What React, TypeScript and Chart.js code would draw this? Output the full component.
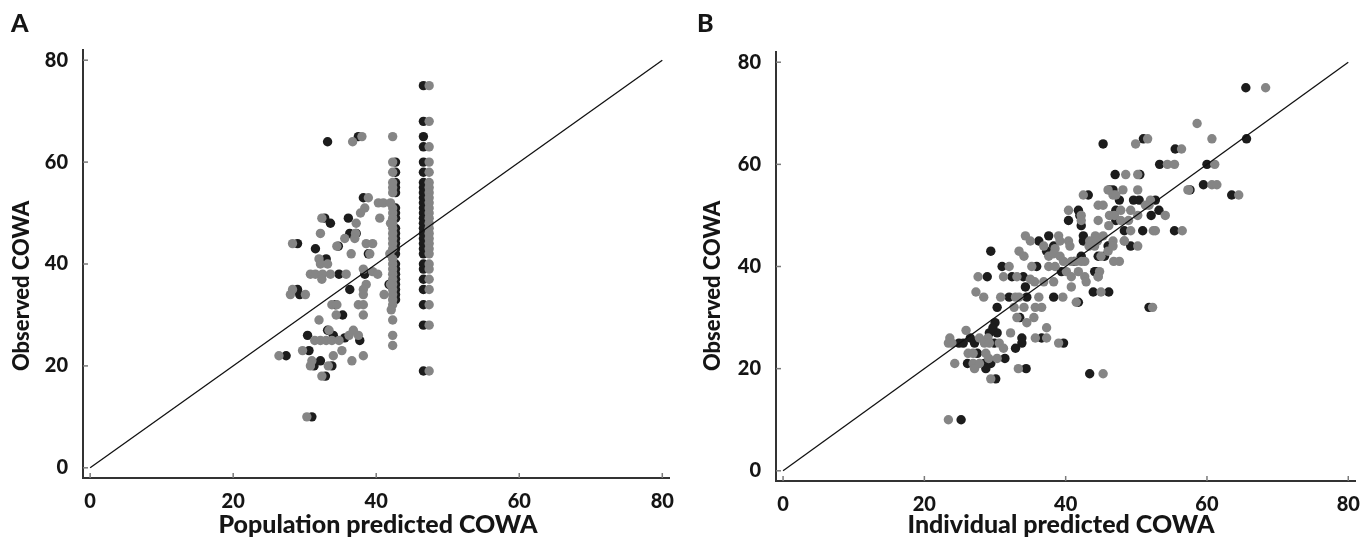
import React, { useEffect, useRef } from "react";
import { Chart, registerables } from "chart.js";

Chart.register(...registerables);

const tickValues = [0, 20, 40, 60, 80];
const panelLetters = ["A", "B"];
const xTitles = ["Population predicted COWA", "Individual predicted COWA"];
const yTitle = "Observed COWA";
const identityLine = [0, 80];

// ---------- Panel A ----------
const aBlackColX = 46.6;
const aBlackColY = [75, 68, 65, 63, 60, 58, 56, 55, 54, 53, 52, 51, 50, 49, 48, 47, 46, 45, 44, 43, 42, 40, 39, 37, 35, 32, 28, 19];
const aGrayColX = 47.4;
const aGrayColY = [75, 68, 63, 60, 58, 56, 55, 54, 53, 52, 51, 50, 49, 48, 47, 46, 45, 44, 43, 42, 40, 39, 37, 35, 32, 28, 19];
const aBlackCol2X = 42.7;
const aBlackCol2Y = [60, 58, 56, 55, 54, 51, 50, 49, 47, 46, 45, 44, 43, 42, 40, 39, 38, 37, 36, 35, 34, 33];
const aGrayCol2X = 42.3;
const aGrayCol2Y = [65, 60, 58, 56, 55, 54, 51, 50, 49, 48, 47, 46, 45, 44, 43, 41, 40, 39, 38, 37, 36, 35, 34, 33, 32, 29, 26, 24];

const aBlackScatter: [number, number][] = [
  [33.2, 64], [37.5, 65], [38.2, 53], [36.1, 49], [32.8, 49], [33.6, 48], [37.2, 46], [36.3, 46],
  [34.7, 43.5], [29, 44], [31.5, 43], [38.9, 42], [33, 41], [34.8, 38], [38.4, 38], [29, 35],
  [29.3, 34], [36.3, 35], [34.3, 32], [35.3, 30], [33.2, 27], [30.4, 26], [34, 26], [35.6, 25.5],
  [37.7, 25], [27.4, 22], [30.6, 23], [32.2, 21], [31.3, 20], [33.8, 20], [32.9, 18], [31, 10], [41.8, 36],
];
const aGrayScatter: [number, number][] = [
  [36.7, 64], [38, 65], [38.9, 53], [40.3, 52], [41, 52], [38.4, 51], [37.8, 50], [32.4, 49],
  [37.2, 48], [40.5, 49], [32.2, 46], [37.1, 46], [35.6, 45], [37, 45], [34.5, 43.5], [38.6, 44],
  [39.5, 44], [28.3, 44], [36.5, 42], [39.1, 42], [32, 41], [32.2, 40], [33.2, 40], [30.8, 38],
  [31.5, 38], [32.5, 38], [33.6, 38], [35.8, 38], [32.4, 37], [38.2, 39], [39.5, 38.5], [40.2, 38],
  [38.6, 36], [38.2, 35], [38.2, 34], [41.1, 34], [28.3, 35], [28, 34], [30.1, 34], [33.8, 32],
  [34.5, 32], [37.5, 32], [38.2, 32], [34.4, 30], [38.2, 30], [32, 29], [33.4, 27], [36.8, 27],
  [31.4, 25], [32.2, 25], [33, 25], [33.8, 25], [34.8, 25], [36.2, 26], [37.5, 26], [26.4, 22],
  [29.7, 23], [34, 22], [35.2, 23], [38.2, 22], [31, 21], [30.8, 20], [33.3, 20], [36.6, 21],
  [32.4, 18], [30.3, 10], [42, 52], [42, 48], [41.9, 42], [42, 36], [42.1, 31],
];

// ---------- Panel B ----------
const bBlack: [number, number][] = [
  [43.2, 54], [46.2, 55], [41.8, 51], [40.4, 49], [42.2, 48], [36.2, 45], [37.6, 46], [38.3, 44],
  [37.3, 43], [42.5, 45], [29.4, 43], [41.2, 41], [44.6, 42], [31, 40], [35.9, 40], [39.4, 39],
  [28.9, 38], [32.4, 38], [34, 38], [34.3, 36], [44.3, 39], [43.9, 35], [46.1, 35], [32, 34],
  [34.5, 34], [38.3, 34], [41.8, 33], [30.3, 32], [33.5, 30], [30, 29], [29.2, 27], [30.3, 27],
  [26.5, 26], [24.9, 25], [25.5, 25], [33.8, 26], [36.6, 26], [27.1, 25], [29.9, 25], [29.7, 28],
  [32.9, 24], [33.8, 25], [39.7, 25], [27.5, 23], [26.1, 21], [28.5, 21], [29.4, 21], [31.4, 22],
  [28.7, 20], [30.1, 18], [34.4, 20], [43.4, 19], [25.2, 10], [51.8, 32], [46.2, 44], [49.2, 44],
  [48.3, 47], [50.9, 47], [55.4, 47], [45.3, 64], [51, 65], [55.5, 63], [65.6, 65], [53.3, 60],
  [60, 60], [47, 58], [50.5, 58], [59.5, 56], [63.5, 54], [46.7, 55], [47.6, 53], [49.6, 53],
  [50.4, 53], [52.7, 53], [53.2, 51], [47.1, 51], [52.1, 50], [42, 50], [47.1, 49], [42.5, 46],
  [46, 44], [42.2, 42], [45.5, 42], [44.1, 39], [65.5, 75], [57.6, 55],
];
const bGray: [number, number][] = [
  [42.5, 54], [46.7, 54], [44.6, 52], [45.3, 52], [40.4, 51], [42.2, 50], [44.6, 49], [46.2, 50],
  [46.9, 50], [46.1, 48], [34.3, 46], [35, 45], [39, 46], [39.2, 45], [40.4, 45], [40.6, 44],
  [38.5, 43.5], [36.9, 44], [43.3, 44], [44.5, 45], [44.2, 46], [45.3, 46], [46.7, 45], [46, 43],
  [33.4, 43], [34.1, 42], [37.6, 42], [38.3, 42.5], [39.7, 41], [41.5, 41], [42.7, 41], [45, 42],
  [32, 40], [35.2, 40], [37.6, 40], [38.5, 40], [40.1, 39], [41.8, 39], [27.6, 38], [31.2, 38],
  [33.1, 38], [35, 37.5], [35.6, 37], [36.9, 37], [38.3, 37], [40.8, 38], [40.8, 36], [42.7, 38],
  [42.9, 37], [44.6, 38], [45, 35], [27.3, 35], [28.4, 34], [30.8, 34], [32.9, 34], [33.4, 34],
  [36.2, 34], [39.6, 34], [41.5, 33], [32.7, 32], [34.1, 32], [35.7, 32], [36.6, 32], [33.1, 30],
  [34.5, 29], [35.5, 30], [25.9, 27.5], [32.2, 27], [37.3, 28], [23.6, 26], [27.8, 26], [29, 26],
  [35.7, 26], [23.4, 25], [23.9, 25], [28.5, 25], [29.2, 25], [30.6, 25], [31.2, 24], [37.3, 26],
  [39, 25], [26.2, 23], [26.9, 23], [28.7, 23], [29.1, 22], [24.3, 21], [26.9, 21], [27.8, 21],
  [30.3, 22], [27.1, 20], [29.4, 18], [33.3, 20], [45.3, 19], [23.4, 10], [52.3, 32], [46.8, 41],
  [47.6, 41], [46.7, 44], [50.2, 44], [48.3, 45], [49.2, 47], [52.4, 47], [56.5, 47], [49.9, 64],
  [51.6, 65], [56.4, 63], [60.7, 65], [54.4, 60], [55.4, 60], [61.1, 60], [48.5, 58], [50.2, 58],
  [60.7, 56], [61.4, 56], [57.4, 55], [64.5, 54], [46, 55], [47.1, 54], [48.1, 55], [50.2, 55],
  [51.8, 52], [47.8, 51], [49.2, 51], [50.2, 50], [54.1, 50], [42.2, 49], [47.8, 49], [48.9, 49],
  [52.7, 47], [43.4, 45], [44.1, 44], [48.3, 45], [42.2, 41], [44.8, 39], [44.6, 38], [68.3, 75],
  [58.6, 68], [57.3, 55], [52, 53], [51.3, 52], [39.2, 42], [40.8, 41],
];

const FONT = "Lato, 'Open Sans', 'DejaVu Sans', sans-serif";
const TEXT = "#151515";
const BLACK_PT = "#1c1c1c";
const GRAY_PT = "#858585";
const X_TITLE_SIZE = 25;
const Y_TITLE_SIZE = 22;

const toPts = (pairs: [number, number][]) => pairs.map(([x, y]) => ({ x, y }));
const colPts = (x: number, ys: number[]) => ys.map((y) => ({ x, y }));

const innerTicks = {
  id: "innerTicks",
  afterDatasetsDraw(chart: any) {
    const { ctx, chartArea, scales } = chart;
    ctx.save();
    ctx.strokeStyle = "#7a7a7a";
    ctx.lineWidth = 1.5;
    for (const v of tickValues) {
      const x = scales.x.getPixelForValue(v);
      ctx.beginPath();
      ctx.moveTo(x, chartArea.bottom);
      ctx.lineTo(x, chartArea.bottom - 5);
      ctx.stroke();
      const y = scales.y.getPixelForValue(v);
      ctx.beginPath();
      ctx.moveTo(chartArea.left, y);
      ctx.lineTo(chartArea.left + 5, y);
      ctx.stroke();
    }
    ctx.restore();
  },
};

type PanelCfg = {
  blackPts: { x: number; y: number }[];
  grayPts: { x: number; y: number }[];
  xTitle: string;
  yW: number;
  xH: number;
  top: number;
  right: number;
  yTitleX: number;
  yTitleY: number;
  xTitleX: number;
  xTitleY: number;
};

function Panel({ cfg, left, letter }: { cfg: PanelCfg; left: number; letter: string }) {
  const ref = useRef<HTMLCanvasElement | null>(null);
  useEffect(() => {
    if (!ref.current) return;
    const tickFont = { family: FONT, size: 20, weight: "900" as any };
    const titles = {
      id: "axisTitles",
      afterDraw(chart: any) {
        const { ctx } = chart;
        ctx.save();
        ctx.fillStyle = TEXT;
        ctx.textAlign = "center";
        ctx.textBaseline = "middle";
        ctx.font = `900 ${X_TITLE_SIZE}px ${FONT}`;
        ctx.fillText(cfg.xTitle, cfg.xTitleX, cfg.xTitleY);
        ctx.font = `900 ${Y_TITLE_SIZE}px ${FONT}`;
        ctx.translate(cfg.yTitleX, cfg.yTitleY);
        ctx.rotate(-Math.PI / 2);
        ctx.fillText(yTitle, 0, 0);
        ctx.restore();
      },
    };
    const chart = new Chart(ref.current, {
      type: "scatter",
      data: {
        datasets: [
          {
            data: identityLine.map((v) => ({ x: v, y: v })),
            showLine: true,
            borderColor: "#111",
            borderWidth: 1.3,
            pointRadius: 0,
            order: 0,
          },
          {
            data: cfg.grayPts,
            backgroundColor: GRAY_PT,
            borderWidth: 0,
            pointRadius: 4.7,
            order: 1,
          },
          {
            data: cfg.blackPts,
            backgroundColor: BLACK_PT,
            borderWidth: 0,
            pointRadius: 4.7,
            order: 2,
          },
        ],
      },
      options: {
        animation: false,
        responsive: false,
        maintainAspectRatio: false,
        layout: { padding: { left: 0, top: cfg.top, right: cfg.right, bottom: 0 } },
        plugins: { legend: { display: false }, tooltip: { enabled: false } },
        scales: {
          x: {
            type: "linear",
            min: -1,
            max: 81,
            afterBuildTicks: (s: any) => {
              s.ticks = tickValues.map((value) => ({ value }));
            },
            afterFit: (s: any) => {
              s.height = cfg.xH;
            },
            grid: { display: false, drawTicks: false },
            border: { display: true, color: "#333", width: 2 },
            ticks: { padding: 12, color: TEXT, font: tickFont },
            title: { display: false },
          },
          y: {
            type: "linear",
            min: -2,
            max: 82,
            afterBuildTicks: (s: any) => {
              s.ticks = tickValues.map((value) => ({ value }));
            },
            afterFit: (s: any) => {
              s.width = cfg.yW;
            },
            grid: { display: false, drawTicks: false },
            border: { display: true, color: "#333", width: 2 },
            ticks: { padding: 15, color: TEXT, font: tickFont },
            title: { display: false },
          },
        },
      },
      plugins: [innerTicks, titles],
    });
    return () => chart.destroy();
  }, [cfg]);
  return (
    <div style={{ position: "absolute", left, top: 0, width: 686, height: 543 }}>
      <canvas ref={ref} width={686} height={543} style={{ width: 686, height: 543, display: "block" }} />
      <div
        style={{
          position: "absolute",
          left: 11,
          top: 10,
          fontFamily: FONT,
          fontWeight: 900,
          fontSize: 25,
          lineHeight: "25px",
          color: TEXT,
        }}
      >
        {letter}
      </div>
    </div>
  );
}

const panelA: PanelCfg = {
  blackPts: [...colPts(aBlackColX, aBlackColY), ...colPts(aBlackCol2X, aBlackCol2Y), ...toPts(aBlackScatter)],
  grayPts: [...colPts(aGrayColX, aGrayColY), ...colPts(aGrayCol2X, aGrayCol2Y), ...toPts(aGrayScatter)],
  xTitle: xTitles[0],
  yW: 83,
  xH: 65,
  top: 50,
  right: 9,
  yTitleX: 22,
  yTitleY: 286,
  xTitleX: 378,
  xTitleY: 525,
};

const panelB: PanelCfg = {
  blackPts: toPts(bBlack),
  grayPts: toPts(bGray),
  xTitle: xTitles[1],
  yW: 90,
  xH: 62,
  top: 52,
  right: 10,
  yTitleX: 27,
  yTitleY: 286,
  xTitleX: 375,
  xTitleY: 525,
};

export default function App() {
  return (
    <div style={{ position: "fixed", left: 0, top: 0, width: 1372, height: 543, background: "#fff" }}>
      <Panel cfg={panelA} left={0} letter={panelLetters[0]} />
      <Panel cfg={panelB} left={686} letter={panelLetters[1]} />
    </div>
  );
}
